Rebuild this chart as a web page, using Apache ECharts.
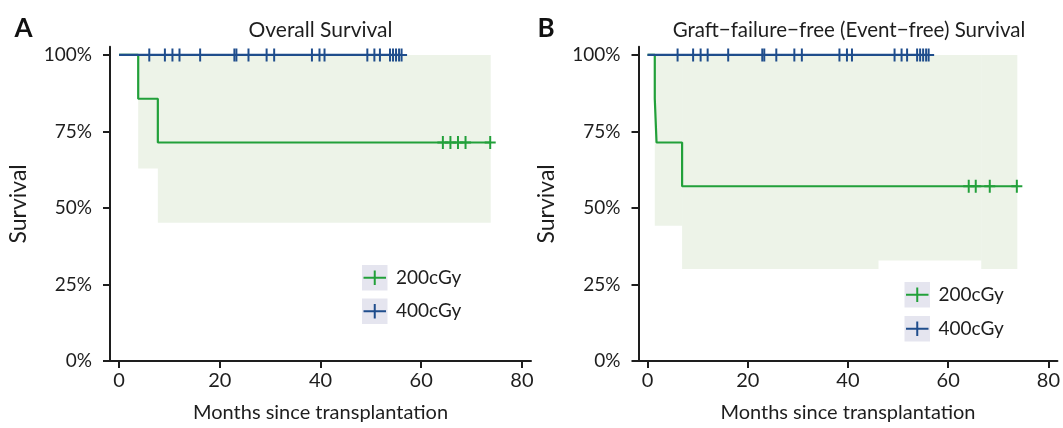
<!DOCTYPE html>
<html>
<head>
<meta charset="utf-8">
<script src="https://cdn.jsdelivr.net/npm/echarts@6/dist/echarts.min.js"></script>
<style>
html,body{margin:0;padding:0;background:#fff;}
#chart{width:1063px;height:428px;}
</style>
</head>
<body>
<div id="chart"></div>
<script>
// ---------- data ----------
const groups = ['200cGy', '400cGy'];
const panelTitles = ['Overall Survival', 'Graft\u2212failure\u2212free (Event\u2212free) Survival'];
const panelLetters = ['A', 'B'];
const xTicks = [0, 20, 40, 60, 80];
const yTicks = [0, 0.25, 0.5, 0.75, 1];

// Panel A: overall survival
const osTime200 = [0, 3.8, 7.7, 73.7];
const osSurv200 = [1, 0.857, 0.714, 0.714];
const osCens200 = [64.3, 65.8, 67.3, 68.8, 73.7];
const osTime400 = [0, 56.1];
const osSurv400 = [1, 1];
const osCens400 = [6.0, 9.1, 10.6, 12.0, 16.1, 22.9, 23.3, 25.7, 29.3, 30.8, 38.3, 39.8, 40.8, 49.3, 50.7, 51.8, 53.8, 54.4, 55.0, 55.6, 56.1];
const osBandFrom = [3.8, 7.7];
const osBandTo = [7.7, 73.7];
const osBandLow = [0.629, 0.452];
const osBandHigh = [1, 1];

// Panel B: graft-failure-free survival
const efsTime200 = [0, 1.45, 1.8, 6.9, 73.7];
const efsSurv200 = [1, 0.857, 0.714, 0.571, 0.571];
const efsCens200 = [64.1, 65.5, 68.3, 73.7];
const efsTime400 = [0, 56.1];
const efsSurv400 = [1, 1];
const efsCens400 = [6.0, 9.1, 10.6, 12.0, 16.1, 22.9, 23.3, 25.7, 29.3, 30.8, 38.3, 39.8, 40.8, 49.3, 50.7, 51.8, 53.8, 54.4, 55.0, 55.6, 56.1];
const efsBandFrom = [1.45, 6.9, 46.0, 66.6];
const efsBandTo = [6.9, 46.0, 66.6, 73.7];
const efsBandLow = [0.442, 0.301, 0.328, 0.301];
const efsBandHigh = [1, 1, 1, 1];

// ---------- style ----------
const GREEN = '#22a03a';
const BLUE = '#1f4d8c';
const BAND = '#edf3e8';
const INK = '#1e1e1e';
const KEYBG = '#e5e5ef';
const FONT = 'Lato, "Open Sans", sans-serif';
const PLUS = 'path://M4.1,0h1.8v12h-1.8zM0,5.1h10v1.8h-10z';

function stepValue(times, surv, t) {
  let v = surv[0];
  for (let i = 0; i < times.length; i++) { if (times[i] <= t) v = surv[i]; }
  return v;
}
function pairs(xs, ys) { return xs.map((x, i) => [x, ys[i]]); }

const panels = [
  {t200: osTime200, s200: osSurv200, c200: osCens200, t400: osTime400, s400: osSurv400, c400: osCens400,
   bf: osBandFrom, bt: osBandTo, bl: osBandLow, bh: osBandHigh},
  {t200: efsTime200, s200: efsSurv200, c200: efsCens200, t400: efsTime400, s400: efsSurv400, c400: efsCens400,
   bf: efsBandFrom, bt: efsBandTo, bl: efsBandLow, bh: efsBandHigh}
];

const gridLeft = [110, 638.5];
const gridW = 421;
const grids = gridLeft.map(l => ({left: l, top: 46.7, width: gridW, height: 316}));

const xAxes = grids.map((g, i) => ({
  type: 'value', gridIndex: i, min: -1.8, max: 81.8,
  name: 'Months since transplantation', nameLocation: 'middle', nameGap: 42,
  nameTextStyle: {fontFamily: FONT, fontSize: 20, color: INK},
  axisLine: {show: true, onZero: false, lineStyle: {color: INK, width: 2}},
  axisTick: {show: true, customValues: xTicks, length: 7, lineStyle: {color: INK, width: 2}},
  axisLabel: {customValues: xTicks, fontFamily: FONT, fontSize: 20, color: INK, margin: 10},
  splitLine: {show: false}
}));
const yAxes = grids.map((g, i) => ({
  type: 'value', gridIndex: i, min: 0, max: 1.027,
  name: 'Survival', nameLocation: 'middle', nameGap: 80,
  nameTextStyle: {fontFamily: FONT, fontSize: 23, color: INK},
  axisLine: {show: true, onZero: false, lineStyle: {color: INK, width: 2}},
  axisTick: {show: true, customValues: yTicks, length: 7, lineStyle: {color: INK, width: 2}},
  axisLabel: {customValues: yTicks, fontFamily: FONT, fontSize: 19, color: INK, margin: 18,
    formatter: v => Math.round(v * 100) + '%'},
  splitLine: {show: false}
}));

const series = [];
panels.forEach((p, i) => {
  series.push({
    type: 'custom', xAxisIndex: i, yAxisIndex: i, z: 1, silent: true,
    data: p.bf.map((f, k) => [f, p.bt[k], p.bl[k], p.bh[k]]),
    renderItem: (params, api) => {
      const a = api.coord([api.value(0), api.value(3)]);
      const b = api.coord([api.value(1), api.value(2)]);
      return {type: 'rect', shape: {x: a[0], y: a[1], width: b[0] - a[0] + 0.5, height: b[1] - a[1]},
        style: {fill: BAND}};
    }
  });
  series.push({
    name: groups[0], type: 'line', xAxisIndex: i, yAxisIndex: i, z: 2, step: 'end',
    showSymbol: false, symbol: 'none', data: pairs(p.t200, p.s200),
    lineStyle: {color: GREEN, width: 2.2}, itemStyle: {color: GREEN}
  });
  series.push({
    name: groups[0], type: 'scatter', xAxisIndex: i, yAxisIndex: i, z: 3,
    symbol: PLUS, symbolSize: [11, 13],
    data: p.c200.map(t => [t, stepValue(p.t200, p.s200, t)]),
    itemStyle: {color: GREEN, opacity: 1}
  });
  series.push({
    name: groups[1], type: 'line', xAxisIndex: i, yAxisIndex: i, z: 4, step: 'end',
    showSymbol: false, symbol: 'none', data: pairs(p.t400, p.s400),
    lineStyle: {color: BLUE, width: 2.2}, itemStyle: {color: BLUE}
  });
  series.push({
    name: groups[1], type: 'scatter', xAxisIndex: i, yAxisIndex: i, z: 5,
    symbol: PLUS, symbolSize: [11, 13],
    data: p.c400.map(t => [t, stepValue(p.t400, p.s400, t)]),
    itemStyle: {color: BLUE, opacity: 1}
  });
});

// ---------- annotations: titles, panel letters, legends ----------
const graphic = [];
const titleX = [320.5, 849];
const titleSize = [21, 20.5];
const letterX = [23.5, 546];
panelTitles.forEach((t, i) => {
  graphic.push({type: 'text', x: titleX[i], y: 30, silent: true,
    style: {text: t, fontFamily: FONT, fontSize: titleSize[i], fill: INK, textAlign: 'center', textVerticalAlign: 'middle'}});
  graphic.push({type: 'text', x: letterX[i], y: 29, silent: true,
    style: {text: panelLetters[i], fontFamily: FONT, fontWeight: 'bold', fontSize: 26, fill: '#111', textAlign: 'center', textVerticalAlign: 'middle'}});
});
const legendPos = [{x: 362, y: [265, 298.5]}, {x: 904.5, y: [282, 316]}];
const legendColors = [GREEN, BLUE];
legendPos.forEach(lp => {
  groups.forEach((g, k) => {
    const y0 = lp.y[k];
    graphic.push({type: 'rect', silent: true, shape: {x: lp.x, y: y0, width: 25.5, height: 25.5}, style: {fill: KEYBG}});
    graphic.push({type: 'line', silent: true, shape: {x1: lp.x + 1.5, y1: y0 + 12.75, x2: lp.x + 24, y2: y0 + 12.75},
      style: {stroke: legendColors[k], lineWidth: 2}});
    graphic.push({type: 'line', silent: true, shape: {x1: lp.x + 12.75, y1: y0 + 5.5, x2: lp.x + 12.75, y2: y0 + 20},
      style: {stroke: legendColors[k], lineWidth: 2}});
    graphic.push({type: 'text', silent: true, x: lp.x + 34, y: y0 + 12.75,
      style: {text: g, fontFamily: FONT, fontSize: 19, fill: INK, textAlign: 'left', textVerticalAlign: 'middle'}});
  });
});

const chart = echarts.init(document.getElementById('chart'), null, {renderer: 'canvas'});
chart.setOption({
  animation: false,
  backgroundColor: '#ffffff',
  grid: grids,
  xAxis: xAxes,
  yAxis: yAxes,
  series: series,
  graphic: graphic
});
</script>
</body>
</html>
